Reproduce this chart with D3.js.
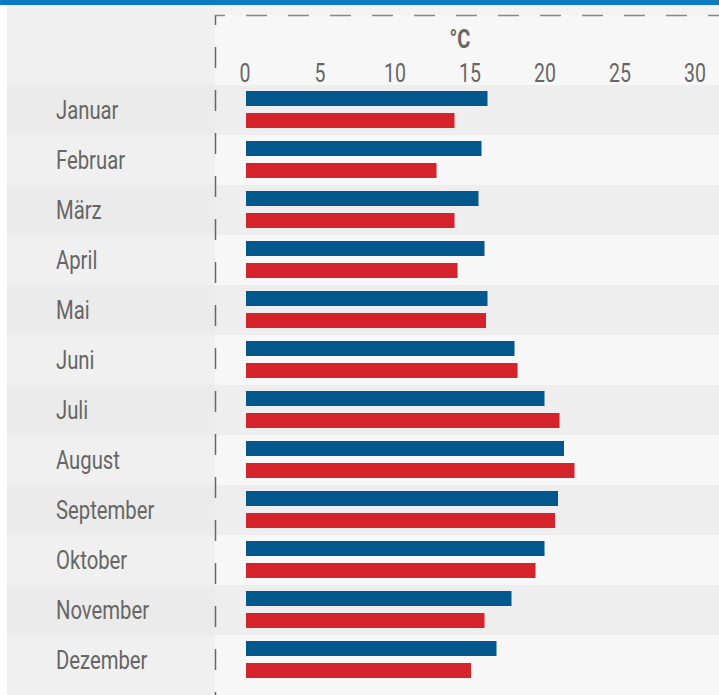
<!DOCTYPE html>
<html>
<head>
<meta charset="utf-8">
<script src="https://cdn.jsdelivr.net/npm/d3@7"></script>
<style>
  body { margin: 0; background: #ffffff; }
  svg { display: block; }
  text { font-family: "Roboto", "DejaVu Sans Condensed", sans-serif; fill: #666666; }
</style>
</head>
<body>
<svg id="chart"></svg>
<script>
// data
var months = ["Januar", "Februar", "März", "April", "Mai", "Juni", "Juli", "August", "September", "Oktober", "November", "Dezember"];
var seriesBlue = [16.1, 15.7, 15.5, 15.9, 16.1, 17.9, 19.9, 21.2, 20.8, 19.9, 17.7, 16.7];
var seriesRed = [13.9, 12.7, 13.9, 14.1, 16.0, 18.1, 20.9, 21.9, 20.6, 19.3, 15.9, 15.0];
var tickValues = [0, 5, 10, 15, 20, 25, 30];
var unitLabel = "°C";

var W = 719, H = 695;
var plotLeft = 215, rowTop = 85, rowH = 50;
var squeeze = 0.78; // condensed look

var svg = d3.select("#chart")
    .attr("width", W)
    .attr("height", H);

// scales
var x = d3.scaleLinear()
    .domain([0, 30])
    .range([246, 696]);
var y = d3.scaleBand()
    .domain(months)
    .range([rowTop, rowTop + rowH * months.length]);

// backgrounds
svg.append("rect").attr("x", 0).attr("y", 0).attr("width", W).attr("height", H).attr("fill", "#ffffff");
svg.append("rect").attr("x", 7).attr("y", 5).attr("width", plotLeft - 7).attr("height", H - 5).attr("fill", "#f0f0f0");
svg.append("rect").attr("x", plotLeft).attr("y", 5).attr("width", W - plotLeft).attr("height", H - 5).attr("fill", "#f7f7f7");
svg.append("rect").attr("x", plotLeft).attr("y", 5).attr("width", W - plotLeft).attr("height", 10).attr("fill", "#f3f3f3");

// alternating row bands
svg.selectAll(".bandL")
    .data(months)
  .enter().append("rect")
    .attr("x", 7)
    .attr("y", function(d) { return y(d); })
    .attr("width", plotLeft - 7)
    .attr("height", y.bandwidth())
    .attr("fill", function(d, i) { return i % 2 === 0 ? "#ebebeb" : "#f0f0f0"; });
svg.selectAll(".bandR")
    .data(months)
  .enter().append("rect")
    .attr("x", plotLeft)
    .attr("y", function(d) { return y(d); })
    .attr("width", W - plotLeft)
    .attr("height", y.bandwidth())
    .attr("fill", function(d, i) { return i % 2 === 0 ? "#eeeeee" : "#f7f7f7"; });

// top blue strip
svg.append("rect").attr("x", 0).attr("y", 0).attr("width", W).attr("height", 5).attr("fill", "#0a7bc3");

// dashed frame lines
svg.append("line")
    .attr("x1", plotLeft + 0.5).attr("x2", plotLeft + 0.5)
    .attr("y1", 15).attr("y2", H)
    .attr("stroke", "#666666").attr("stroke-width", 1.5)
    .attr("stroke-dasharray", "21,22").attr("stroke-dashoffset", 11);
svg.append("line")
    .attr("x1", plotLeft).attr("x2", W)
    .attr("y1", 15.5).attr("y2", 15.5)
    .attr("stroke", "#888888").attr("stroke-width", 1.5)
    .attr("stroke-dasharray", "21,21").attr("stroke-dashoffset", 11);

// x axis tick labels
svg.selectAll(".tick")
    .data(tickValues)
  .enter().append("text")
    .attr("transform", function(d) { return "translate(" + (x(d) - 1) + ",82) scale(" + squeeze + ",1)"; })
    .attr("text-anchor", "middle")
    .style("font-size", "25px")
    .text(function(d) { return d; });

svg.append("text")
    .attr("transform", "translate(460,48) scale(0.8,1)")
    .attr("text-anchor", "middle")
    .style("font-size", "25px")
    .style("font-weight", "bold")
    .text(unitLabel);

// month labels
svg.selectAll(".month")
    .data(months)
  .enter().append("text")
    .attr("transform", function(d) { return "translate(56," + (y(d) + 34) + ") scale(" + squeeze + ",1)"; })
    .style("font-size", "26px")
    .text(function(d) { return d; });

// bars
svg.selectAll(".barBlue")
    .data(seriesBlue)
  .enter().append("rect")
    .attr("x", x(0))
    .attr("y", function(d, i) { return y(months[i]) + 6; })
    .attr("width", function(d) { return x(d) - x(0); })
    .attr("height", 15)
    .attr("fill", "#02578c");
svg.selectAll(".barRed")
    .data(seriesRed)
  .enter().append("rect")
    .attr("x", x(0))
    .attr("y", function(d, i) { return y(months[i]) + 28; })
    .attr("width", function(d) { return x(d) - x(0); })
    .attr("height", 15)
    .attr("fill", "#d4232b");
</script>
</body>
</html>
